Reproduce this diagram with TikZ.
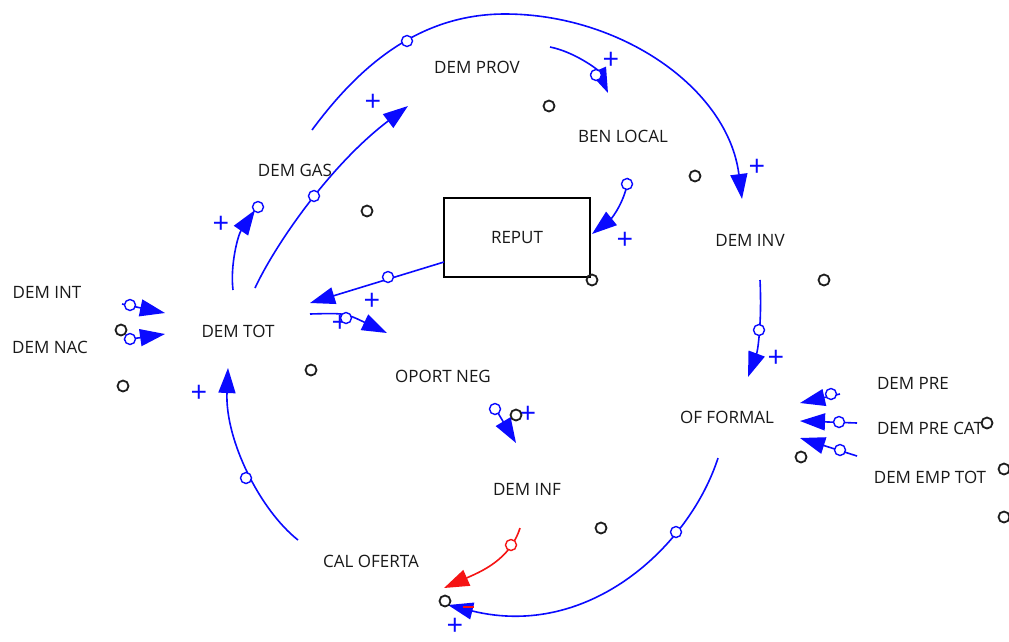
\documentclass[tikz,border=0pt]{standalone}
\usepackage{fontspec}
\setmainfont{Open Sans}
\usetikzlibrary{arrows.meta}
\definecolor{linkblue}{RGB}{10,10,255}
\definecolor{linkred}{RGB}{245,20,20}
\definecolor{dotgray}{RGB}{30,30,30}
\begin{document}
\begin{tikzpicture}[x=1pt,y=-1pt,
  lbl/.style={font=\fontsize{17}{20}\selectfont, inner sep=0pt, text=black!90},
  lnk/.style={draw=linkblue, line width=1.6pt, -{Triangle[length=25pt,width=17pt]}},
  rlnk/.style={draw=linkred, line width=1.6pt, -{Triangle[length=25pt,width=17pt]}},
  hnd/.style={circle, draw=linkblue, fill=white, line width=1.4pt, minimum size=11pt, inner sep=0pt},
  rhnd/.style={circle, draw=linkred, fill=white, line width=1.4pt, minimum size=11pt, inner sep=0pt},
  pnt/.style={circle, draw=dotgray, line width=1.8pt, minimum size=11pt, inner sep=0pt},
  pol/.style={text=linkblue, font=\fontsize{29}{29}\selectfont, inner sep=0pt}]
\useasboundingbox (0,0) rectangle (1009,641);
\fill[white] (0,0) rectangle (1009,641);

% variables
\node[lbl] (demprov) at (477,67) {DEM PROV};
\node[lbl] (benlocal) at (623,136) {BEN LOCAL};
\node[lbl] (demgas) at (295,170) {DEM GAS};
\node[lbl, draw=black, line width=1.5pt, minimum width=146pt, minimum height=79pt] (reput) at (517,237.5) {REPUT};
\node[lbl] (deminv) at (750,240) {DEM INV};
\node[lbl] (demint) at (47,292) {DEM INT};
\node[lbl] (demnac) at (50,347) {DEM NAC};
\node[lbl] (demtot) at (238,331) {DEM TOT};
\node[lbl] (oportneg) at (443,376) {OPORT NEG};
\node[lbl] (offormal) at (727,417) {OF FORMAL};
\node[lbl] (dempre) at (913,383) {DEM PRE};
\node[lbl] (demprecat) at (930,428) {DEM PRE CAT};
\node[lbl] (dememptot) at (930,477) {DEM EMP TOT};
\node[lbl] (deminf) at (527,489) {DEM INF};
\node[lbl] (caloferta) at (371,561) {CAL OFERTA};

% connector end points
\coordinate (gasA) at (312,130);   \coordinate (invB) at (742,199);
\coordinate (provA) at (550,47);   \coordinate (benB) at (608,93);
\coordinate (gasC) at (255,288);   \coordinate (provD) at (408,106);
\coordinate (totA) at (233,290);   \coordinate (gasB) at (255,210);
\coordinate (benA) at (628,178);   \coordinate (repB) at (592,234);
\coordinate (repA) at (444,262);   \coordinate (totB) at (310,303);
\coordinate (totC) at (310,314);   \coordinate (opoB) at (387,333);
\coordinate (opoA) at (495,408);   \coordinate (infB) at (516,443);
\coordinate (intA) at (122,304);   \coordinate (totD) at (165,313);
\coordinate (nacA) at (124,340);   \coordinate (totE) at (165,334);
\coordinate (calA) at (298,540);   \coordinate (totF) at (228,368);
\coordinate (invA) at (760,280);   \coordinate (ofB) at (748,377);
\coordinate (preA) at (840,394);   \coordinate (ofC) at (800,403);
\coordinate (catA) at (857,423);   \coordinate (ofD) at (800,421);
\coordinate (empA) at (857,456);   \coordinate (ofE) at (800,438);
\coordinate (ofA) at (718,458);    \coordinate (calB) at (448,605);
\coordinate (infA) at (520,528);   \coordinate (calC) at (444,588);

% links
\draw[lnk] (gasA) .. controls (360,65) and (420,14) .. (505,14)
  .. controls (620,14) and (728,88) .. (invB);
\draw[lnk] (provA) .. controls (575,52) and (598,70) .. (benB);
\draw[lnk] (gasC) .. controls (275,245) and (330,165) .. (provD);
\draw[lnk] (totA) .. controls (230,265) and (238,235) .. (gasB);
\draw[lnk] (benA) .. controls (626,200) and (612,218) .. (repB);
\draw[lnk] (repA) -- (totB);
\draw[lnk] (totC) .. controls (345,313) .. (opoB);
\draw[lnk] (opoA) -- (infB);
\draw[lnk] (intA) -- (totD);
\draw[lnk] (nacA) -- (totE);
\draw[lnk] (calA) .. controls (260,510) and (225,440) .. (totF);
\draw[lnk] (invA) .. controls (762,320) and (758,350) .. (ofB);
\draw[lnk] (preA) -- (ofC);
\draw[lnk] (catA) -- (ofD);
\draw[lnk] (empA) -- (ofE);
\draw[lnk] (ofA) .. controls (690,545) and (590,640) .. (calB);
\draw[rlnk] (infA) .. controls (510,560) and (480,572) .. (calC);
\coordinate (rdA) at (463,607); \coordinate (rdB) at (474,607);
\draw[linkred, line width=1.6pt] (rdA) -- (rdB);

% polarity signs
\node[pol] (s1) at (611,61) {+};
\node[pol] (s2) at (757,168) {+};
\node[pol] (s3) at (373,103) {+};
\node[pol] (s4) at (221,225) {+};
\node[pol] (s5) at (625,241) {+};
\node[pol] (s6) at (372,302) {+};
\node[pol] (s7) at (340,324) {+};
\node[pol] (s8) at (528,415) {+};
\node[pol] (s9) at (199,394) {+};
\node[pol] (s10) at (776,359) {+};
\node[pol] (s11) at (455,627) {+};

% link handles
\node[hnd] (h1) at (407,41) {};
\node[hnd] (h2) at (596,75) {};
\node[hnd] (h3) at (314,196) {};
\node[hnd] (h4) at (258,207) {};
\node[hnd] (h5) at (627,184) {};
\node[hnd] (h6) at (388,277) {};
\node[hnd] (h7) at (346,318) {};
\node[hnd] (h8) at (495,409) {};
\node[hnd] (h9) at (130,305) {};
\node[hnd] (h10) at (130,339) {};
\node[hnd] (h11) at (246,478) {};
\node[hnd] (h12) at (759,330) {};
\node[hnd] (h13) at (831,394) {};
\node[hnd] (h14) at (839,422) {};
\node[hnd] (h15) at (840,450) {};
\node[hnd] (h16) at (676,532) {};
\node[rhnd] (h17) at (511,545) {};

% loose points
\foreach \px/\py [count=\i] in {549/106, 695/176, 367/211, 592/280, 824/280,
    121/330, 123/386, 311/370, 516/415, 801/457, 601/528, 445/601,
    987/423, 1004/469, 1004/517}
  \node[pnt] (pt\i) at (\px,\py) {};
\end{tikzpicture}
\end{document}
